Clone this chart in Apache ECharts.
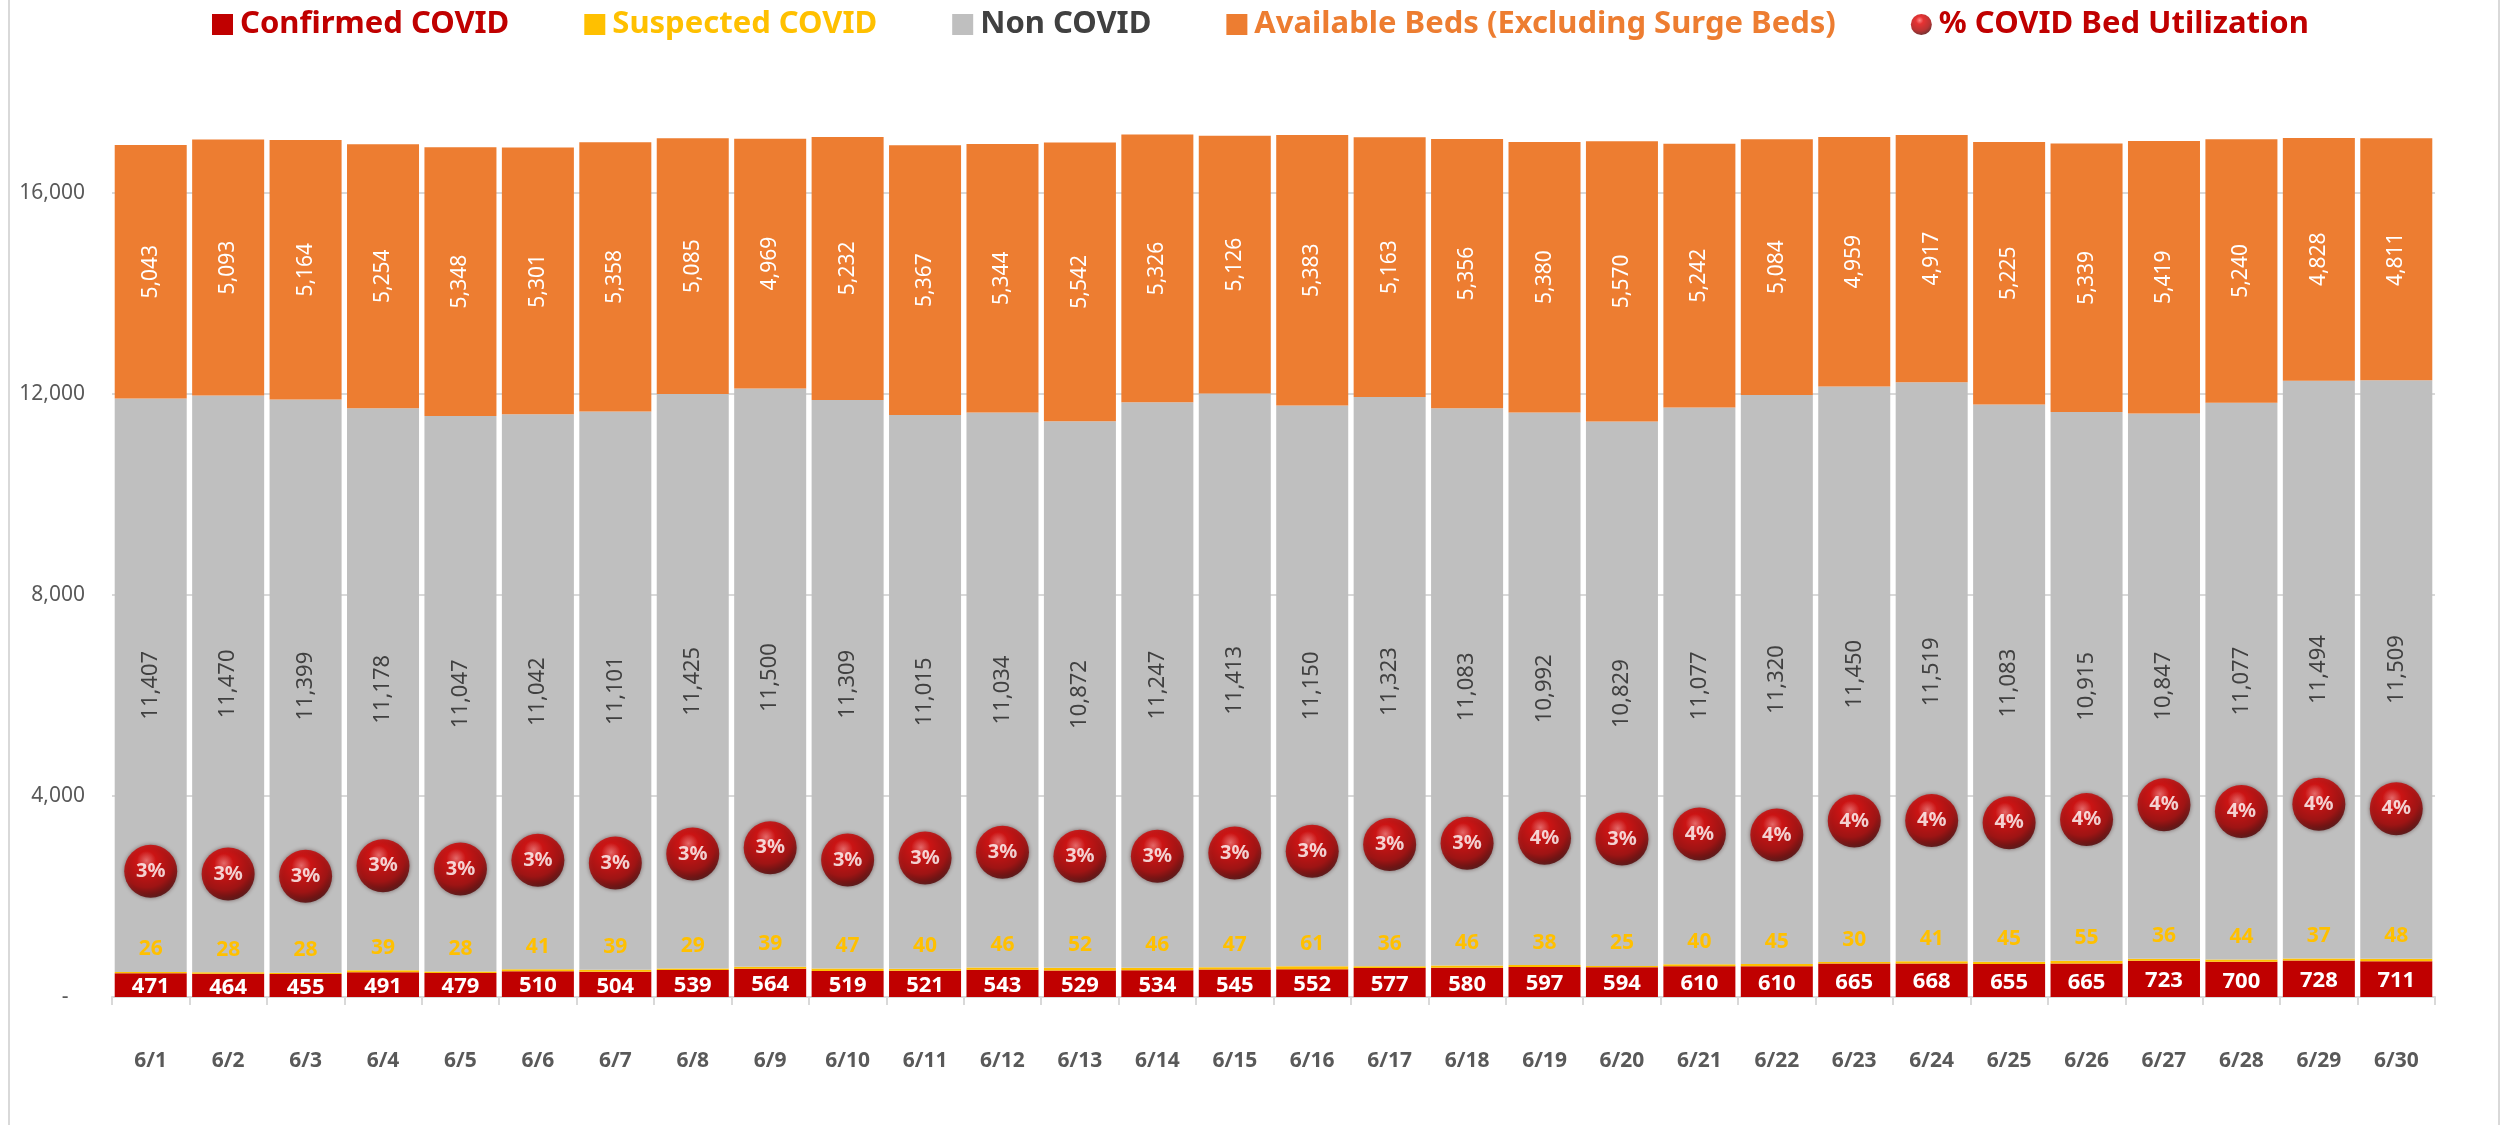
<!DOCTYPE html>
<html>
<head>
<meta charset="utf-8">
<title>COVID Bed Utilization</title>
<script src="https://cdn.jsdelivr.net/npm/echarts@6.0.0/dist/echarts.min.js"></script>
<style>
    html, body { margin: 0; padding: 0; background: #fff; }
    #chartContainer { width: 2503px; height: 1125px; }
</style>
</head>
<body>
<div id="chartContainer"></div>
<script>
const days = ['6/1', '6/2', '6/3', '6/4', '6/5', '6/6', '6/7', '6/8', '6/9', '6/10',
    '6/11', '6/12', '6/13', '6/14', '6/15', '6/16', '6/17', '6/18', '6/19', '6/20',
    '6/21', '6/22', '6/23', '6/24', '6/25', '6/26', '6/27', '6/28', '6/29', '6/30'];

const confirmed = [471, 464, 455, 491, 479, 510, 504, 539, 564, 519,
    521, 543, 529, 534, 545, 552, 577, 580, 597, 594,
    610, 610, 665, 668, 655, 665, 723, 700, 728, 711];

const suspected = [26, 28, 28, 39, 28, 41, 39, 29, 39, 47,
    40, 46, 52, 46, 47, 61, 36, 46, 38, 25,
    40, 45, 30, 41, 45, 55, 36, 44, 37, 48];

const nonCovid = [11407, 11470, 11399, 11178, 11047, 11042, 11101, 11425, 11500, 11309,
    11015, 11034, 10872, 11247, 11413, 11150, 11323, 11083, 10992, 10829,
    11077, 11320, 11450, 11519, 11083, 10915, 10847, 11077, 11494, 11509];

const availableBeds = [5043, 5093, 5164, 5254, 5348, 5301, 5358, 5085, 4969, 5232,
    5367, 5344, 5542, 5326, 5126, 5383, 5163, 5356, 5380, 5570,
    5242, 5084, 4959, 4917, 5225, 5339, 5419, 5240, 4828, 4811];

// % COVID bed utilization (bubble heights)
const utilization = [0.0278, 0.0272, 0.0267, 0.0290, 0.0283, 0.0302, 0.0296, 0.0316, 0.0330, 0.0303,
    0.0307, 0.0320, 0.0311, 0.0311, 0.0318, 0.0322, 0.0337, 0.0340, 0.0351, 0.0349,
    0.0360, 0.0358, 0.0389, 0.0390, 0.0385, 0.0392, 0.0425, 0.0410, 0.0426, 0.0416];

const yTicks = [0, 4000, 8000, 12000, 16000];

const FONT = '"Noto Sans", "Open Sans", sans-serif';

function fmt(v) {
    return Number(v).toLocaleString('en-US');
}

const bubbleColor = new echarts.graphic.RadialGradient(0.42, 0.3, 0.72, [
    { offset: 0, color: '#ff6a6a' },
    { offset: 0.25, color: '#e00000' },
    { offset: 0.7, color: '#a80000' },
    { offset: 1, color: '#4a0000' }
]);

const chart = echarts.init(document.getElementById('chartContainer'));

chart.setOption({
    backgroundColor: '#fff',
    animation: false,
    textStyle: { fontFamily: FONT },
    graphic: [
        {
            type: 'rect',
            shape: { x: 9, y: -10, width: 2490, height: 1150 },
            style: { fill: 'none', stroke: '#d9d9d9', lineWidth: 2 },
            silent: true
        }
    ],
    legend: {
        top: 4,
        left: 207,
        itemGap: 75,
        itemWidth: 21,
        itemHeight: 21,
        textStyle: { fontFamily: FONT, fontSize: 31, fontWeight: 'bold', padding: [0, 0, 0, 2] },
        data: [
            { name: 'Confirmed COVID', icon: 'rect', textStyle: { color: '#C00000' } },
            { name: 'Suspected COVID', icon: 'rect', textStyle: { color: '#FFC000' } },
            { name: 'Non COVID', icon: 'rect', textStyle: { color: '#404040' } },
            { name: 'Available Beds (Excluding Surge Beds)', icon: 'rect', textStyle: { color: '#ED7D31' } },
            { name: '% COVID Bed Utilization', icon: 'circle', textStyle: { color: '#C00000' } }
        ]
    },
    grid: {
        left: 112,
        right: 68,
        top: 92,
        bottom: 128
    },
    xAxis: {
        type: 'category',
        data: days,
        axisLine: { lineStyle: { color: '#d9d9d9', width: 2 } },
        axisTick: { show: true, length: 8, lineStyle: { color: '#d9d9d9', width: 2 } },
        axisLabel: {
            color: '#595959',
            fontFamily: FONT,
            fontSize: 21,
            fontWeight: 'bold',
            margin: 54
        }
    },
    yAxis: [
        {
            type: 'value',
            min: 0,
            max: 18000,
            interval: 4000,
            axisLine: { show: false },
            axisTick: { show: false },
            axisLabel: {
                color: '#595959',
                fontFamily: FONT,
                fontSize: 21,
                margin: 27,
                showMaxLabel: false,
                formatter: v => (v === 0 ? '-   ' : (yTicks.indexOf(v) >= 0 ? fmt(v) : ''))
            },
            splitLine: {
                showMaxLine: false,
                lineStyle: { color: '#d9d9d9', width: 2 }
            }
        },
        {
            type: 'value',
            min: 0,
            max: 0.2,
            show: false,
            splitLine: { show: false }
        }
    ],
    series: [
        {
            name: 'Confirmed COVID',
            type: 'bar',
            stack: 'beds',
            barCategoryGap: '7%',
            data: confirmed,
            itemStyle: { color: '#C00000' },
            label: {
                show: true,
                position: 'inside',
                color: '#fff',
                fontFamily: FONT,
                fontSize: 22,
                fontWeight: 'bold',
                offset: [0, 2],
                formatter: p => fmt(p.value)
            }
        },
        {
            name: 'Suspected COVID',
            type: 'bar',
            stack: 'beds',
            data: suspected,
            itemStyle: { color: '#FFC000' },
            label: {
                show: true,
                position: 'top',
                distance: 12,
                color: '#FFC000',
                fontFamily: FONT,
                fontSize: 21,
                fontWeight: 'bold',
                formatter: p => fmt(p.value)
            }
        },
        {
            name: 'Non COVID',
            type: 'bar',
            stack: 'beds',
            data: nonCovid,
            itemStyle: { color: '#BFBFBF' },
            label: {
                show: true,
                position: 'inside',
                rotate: 90,
                color: '#404040',
                fontFamily: FONT,
                fontSize: 22,
                formatter: p => fmt(p.value)
            }
        },
        {
            name: 'Available Beds (Excluding Surge Beds)',
            type: 'bar',
            stack: 'beds',
            data: availableBeds,
            itemStyle: { color: '#ED7D31' },
            label: {
                show: true,
                position: 'inside',
                rotate: 90,
                color: '#fff',
                fontFamily: FONT,
                fontSize: 21,
                formatter: p => fmt(p.value)
            }
        },
        {
            name: '% COVID Bed Utilization',
            type: 'scatter',
            yAxisIndex: 1,
            data: utilization,
            symbol: 'circle',
            symbolSize: 53,
            z: 5,
            itemStyle: {
                color: bubbleColor,
                shadowColor: 'rgba(40, 0, 0, 0.6)',
                shadowBlur: 4
            },
            label: {
                show: true,
                position: 'inside',
                color: '#fff',
                fontFamily: FONT,
                fontSize: 20,
                fontWeight: 'bold',
                formatter: p => Math.round(p.value * 100) + '%'
            }
        }
    ]
});

window.addEventListener('resize', () => {
    chart.resize();
});
</script>
</body>
</html>
